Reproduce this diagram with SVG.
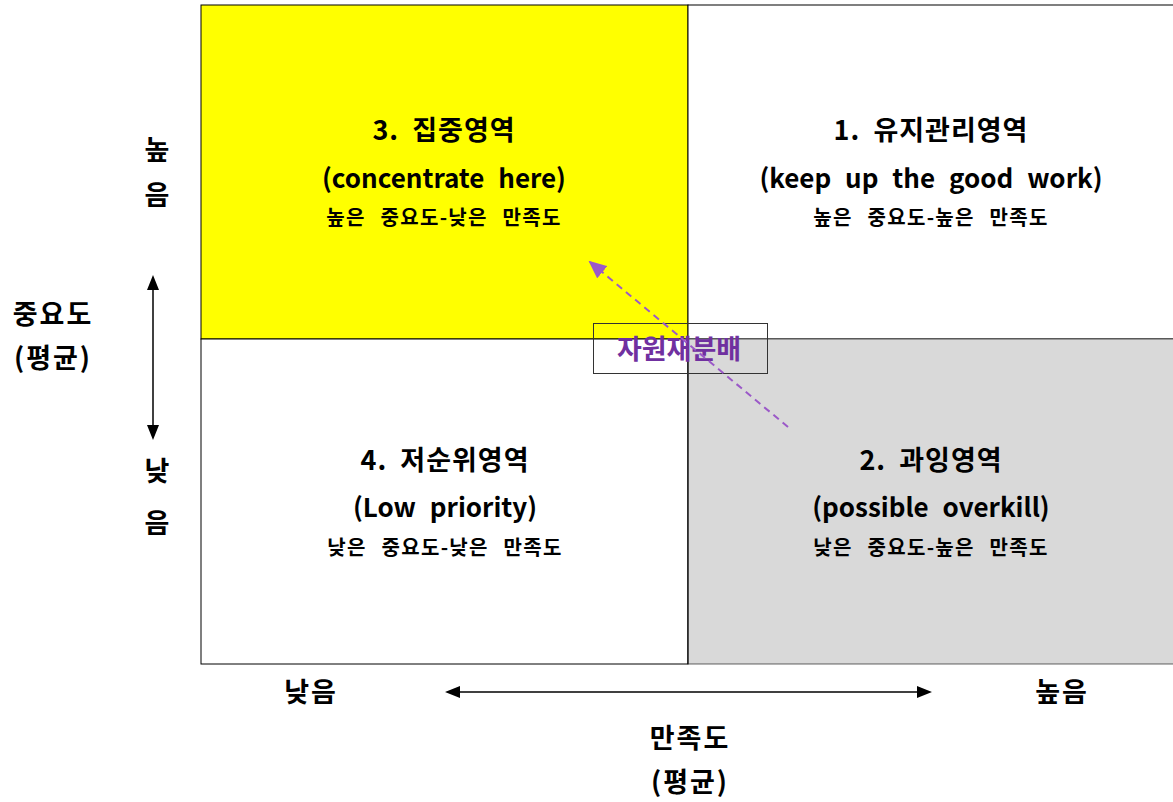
<svg xmlns="http://www.w3.org/2000/svg" width="1173" height="802" viewBox="0 0 1173 802">
<style>
text{font-family:"Noto Sans CJK KR","Noto Sans",sans-serif;font-weight:bold;fill:#000;text-anchor:middle}
.k{font-size:27px;word-spacing:6px;letter-spacing:1px}
.t{font-size:26px;word-spacing:8px}
.s{font-size:20px;word-spacing:9px;letter-spacing:1.3px}
.ax{font-size:27px;letter-spacing:2px}
.cell{stroke:#000;stroke-width:1}
</style>
<defs>
<marker id="ahp" markerWidth="18" markerHeight="16" refX="16" refY="8" orient="auto" markerUnits="userSpaceOnUse" viewBox="0 0 18 16"><path d="M0,0 L18,8 L0,16 z" fill="#9B59C8"/></marker>
</defs>
<g id="q3"><rect x="201" y="5" width="487" height="334" fill="#FFFF00" class="cell"/>
<text class="k" x="444" y="140">3. 집중영역</text>
<text class="t" x="444" y="188">(concentrate here)</text>
<text class="s" x="444" y="225">높은 중요도-낮은 만족도</text></g>
<g id="q1"><rect x="688" y="5" width="486" height="334" fill="#FFFFFF" class="cell"/>
<text class="k" x="931" y="140">1. 유지관리영역</text>
<text class="t" x="931" y="188">(keep up the good work)</text>
<text class="s" x="931" y="225">높은 중요도-높은 만족도</text></g>
<g id="q4"><rect x="201" y="339" width="487" height="325" fill="#FFFFFF" class="cell"/>
<text class="k" x="445" y="470">4. 저순위영역</text>
<text class="t" x="445" y="517">(Low priority)</text>
<text class="s" x="445" y="555">낮은 중요도-낮은 만족도</text></g>
<g id="q2"><rect x="688" y="339" width="486" height="325" fill="#D9D9D9" class="cell" stroke-opacity="0.6"/>
<line x1="688" y1="339" x2="688" y2="664" stroke="#000"/>
<text class="k" x="931" y="470">2. 과잉영역</text>
<text class="t" x="931" y="517">(possible overkill)</text>
<text class="s" x="931" y="555">낮은 중요도-높은 만족도</text></g>
<g id="label"><rect x="593.5" y="323.5" width="174" height="50" fill="none" stroke="#333" stroke-width="1"/>
<text x="679" y="359" style="font-size:27px;fill:#7030A0">자원재분배</text></g>
<g id="connectors">
<line x1="788" y1="427" x2="590" y2="262" stroke="#9B59C8" stroke-width="2" stroke-dasharray="7,5" marker-end="url(#ahp)"/>
<line x1="153" y1="285" x2="153" y2="431" stroke="#000" stroke-width="1.5"/>
<path d="M153,275 L147,290 L159,290 z M153,440 L147,425 L159,425 z"/>
<line x1="455" y1="692" x2="922" y2="692" stroke="#000" stroke-width="1.5"/>
<path d="M445,692 L460,686 L460,698 z M932,692 L917,686 L917,698 z"/>
</g>
<g id="axis-y">
<text class="ax" x="158" y="160">높</text>
<text class="ax" x="158" y="205">음</text>
<text class="ax" x="53" y="324">중요도</text>
<text class="ax" x="53" y="368">(평균)</text>
<text class="ax" x="158" y="481">낮</text>
<text class="ax" x="158" y="533">음</text>
</g>
<g id="axis-x">
<text class="ax" x="311" y="702">낮음</text>
<text class="ax" x="1062" y="702">높음</text>
<text class="ax" x="690" y="748">만족도</text>
<text class="ax" x="690" y="792">(평균)</text>
</g>
</svg>
